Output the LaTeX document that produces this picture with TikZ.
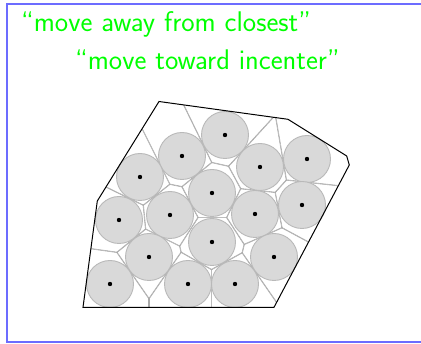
\documentclass[tikz,border=0pt]{standalone}
\usetikzlibrary{calc}
\definecolor{framecol}{RGB}{108,108,255}
\definecolor{diskfill}{RGB}{217,217,217}
\definecolor{diskline}{RGB}{185,185,185}
\definecolor{vorline}{RGB}{170,170,170}
\tikzset{
  disk/.style={fill=diskfill, draw=diskline, line width=0.9pt},
  site/.style={fill=black},
  vor/.style={draw=vorline, line width=1.1pt},
  outline/.style={draw=black, line width=1pt, line join=miter},
  label/.style={text=green, font=\fontsize{28.4}{34}\selectfont\sffamily, inner sep=0pt, anchor=base west},
}
\begin{document}
\begin{tikzpicture}[x=1pt,y=-1pt]
\useasboundingbox (0,0) rectangle (421,344);
\fill[white] (0,0) rectangle (421,344);
\draw[framecol, line width=2pt] (421,4) -- (7,4) -- (7,342.5) -- (421,342.5);
\node[label] (t1) at (21,31.5) {``move away from closest''};
\node[label] (t2) at (75,70) {``move toward incenter''};
\foreach \n/\x/\y in {1/225/135, 2/182/156, 3/140/177, 4/260/167, 5/307/159, 6/212/193,
  7/119/220, 8/170/215, 9/255/214, 10/302/205, 11/212/242, 12/149/257, 13/274/257,
  14/110/284, 15/188/284, 16/235/284}
  \coordinate (s\n) at (\x,\y);
\coordinate (p1) at (83,307.3);
\coordinate (p2) at (97.3,201);
\coordinate (p3) at (159,101.5);
\coordinate (p4) at (288,119.3);
\coordinate (p5) at (346.7,156);
\coordinate (p6) at (349.3,165);
\coordinate (p7) at (274,307.3);
\begin{scope}[overlay]
\foreach \i in {1,...,16} {
  \begin{scope}
    \clip (p1) -- (p2) -- (p3) -- (p4) -- (p5) -- (p6) -- (p7) -- cycle;
    \foreach \j in {1,...,16} {
      \ifnum\i=\j\relax\else
        \coordinate (m) at ($(s\i)!0.5!(s\j)$);
        \clip ($(m)!600pt!90:(s\i)$) -- ($(m)!600pt!-90:(s\i)$) -- ($(m)!600pt!(s\i)$) -- cycle;
      \fi
    }
    \foreach \j in {1,...,16} {
      \ifnum\i=\j\relax\else
        \coordinate (m) at ($(s\i)!0.5!(s\j)$);
        \draw[vor] ($(m)!600pt!90:(s\i)$) -- ($(m)!600pt!-90:(s\i)$);
      \fi
    }
  \end{scope}
}
\end{scope}
\foreach \n in {1,...,16} \path[disk] (s\n) circle (23.5pt);
\foreach \n in {1,...,16} \fill[site] (s\n) circle (2.2pt);
\path[outline] (p1) -- (p2) -- (p3) -- (p4) -- (p5) -- (p6) -- (p7) -- cycle;
\end{tikzpicture}
\end{document}
